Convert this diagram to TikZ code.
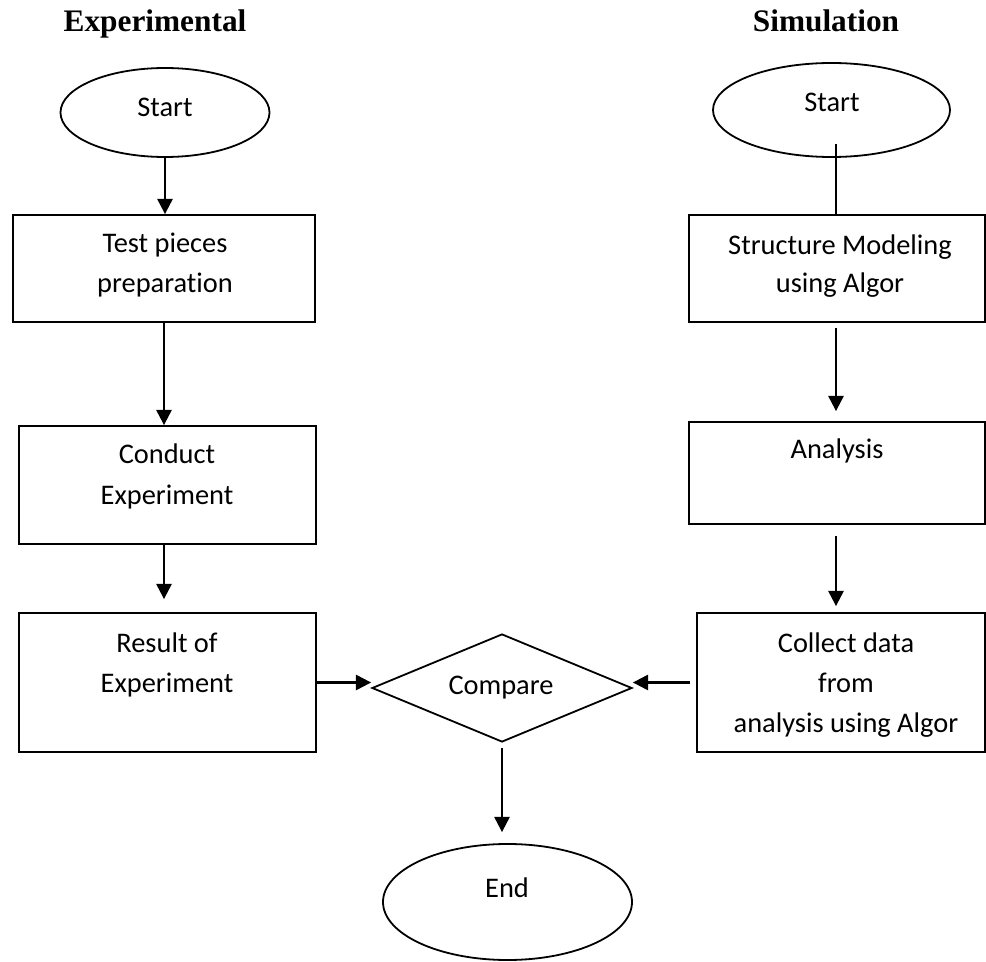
\documentclass[tikz,border=0pt]{standalone}
\usepackage{fontspec}
\setmainfont{Carlito}[Ligatures={NoCommon,NoContextual}]
\newfontfamily\titlefont{Liberation Serif}
\usetikzlibrary{shapes.geometric,arrows.meta}
\begin{document}
\begin{tikzpicture}[x=0.75pt,y=-0.75pt,
  shapebox/.style={draw, line width=1.35pt, rectangle, inner sep=0pt},
  oval/.style={draw, line width=1.35pt, ellipse, inner sep=0pt},
  decision/.style={draw, line width=1.35pt, diamond, inner sep=0pt},
  lbl/.style={inner sep=0pt, anchor=base, font=\fontsize{21.3pt}{30pt}\selectfont},
  ttl/.style={inner sep=0pt, anchor=base, font=\titlefont\bfseries\fontsize{23.5pt}{28pt}\selectfont},
  arr/.style={line width=1.6pt, -{Triangle[length=11.5pt,width=11.5pt]}},
  plainline/.style={line width=1.6pt}]
\useasboundingbox (0,0) rectangle (986,962);
\fill[white] (0,0) rectangle (986,962);

% titles
\node[ttl] (t1) at (155,32) {Experimental};
\node[ttl] (t2) at (826,32) {Simulation};

% left column shapes
\node[oval, minimum width=156.75pt, minimum height=66.75pt] (s1) at (165,112.5) {};
\node[shapebox, minimum width=226.5pt, minimum height=80.25pt] (b1) at (164,268.5) {};
\node[shapebox, minimum width=222.75pt, minimum height=88.5pt] (b2) at (167.5,485) {};
\node[shapebox, minimum width=222.75pt, minimum height=104.25pt] (b3) at (167.5,682.5) {};

% centre shapes
\node[decision, minimum width=195pt, minimum height=81pt] (cmp) at (502,688) {};
\node[oval, minimum width=186.75pt, minimum height=87pt] (e) at (507.5,902) {};

% right column shapes
\node[oval, minimum width=177.75pt, minimum height=70.5pt] (s2) at (831.5,110) {};
\node[shapebox, minimum width=222pt, minimum height=80.25pt] (b4) at (837,268.5) {};
\node[shapebox, minimum width=222pt, minimum height=76.5pt] (b5) at (837,473) {};
\node[shapebox, minimum width=216pt, minimum height=104.25pt] (b6) at (841,682.5) {};

% labels
\node[lbl] (l1) at (165,117) {Start};
\node[lbl] (l2a) at (165,253) {Test pieces};
\node[lbl] (l2b) at (165,293) {preparation};
\node[lbl] (l3a) at (167,464) {Conduct};
\node[lbl] (l3b) at (167,505) {Experiment};
\node[lbl] (l4a) at (167,652) {Result of};
\node[lbl] (l4b) at (167,692) {Experiment};
\node[lbl] (l5) at (501,694) {Compare};
\node[lbl] (l6) at (507,897) {End};
\node[lbl] (r1) at (832,112) {Start};
\node[lbl] (r2a) at (840,255) {Structure Modeling};
\node[lbl] (r2b) at (840,293) {using Algor};
\node[lbl] (r3) at (837,459) {Analysis};
\node[lbl] (r4a) at (846,652) {Collect data};
\node[lbl] (r4b) at (846,692) {from};
\node[lbl] (r4c) at (846,732) {analysis using Algor};

% connectors left
\draw[arr] (s1.south) -- (s1.south |- b1.north);
\draw[arr] (b1.south) -- (b1.south |- b2.north);
\draw[arr, shorten >=9.75pt] (b1.south |- b2.south) -- (b1.south |- b3.north);
\draw[arr] (b3.east) -- (b3.east -| cmp.west);

% connectors right
\coordinate (s2in) at (836,144);
\draw[plainline] (s2in) -- (s2in |- b4.north);
\draw[arr, shorten <=3.75pt, shorten >=7.5pt] (s2in |- b4.south) -- (s2in |- b5.north);
\draw[arr, shorten <=8.25pt, shorten >=4.5pt] (s2in |- b5.south) -- (s2in |- b6.north);
\draw[arr, shorten <=4.5pt] (b6.west |- b3.east) -- (b3.east -| cmp.east);

% to end
\draw[arr, shorten <=3.75pt, shorten >=8.25pt] (cmp.south) -- (cmp.south |- e.north);
\end{tikzpicture}
\end{document}
